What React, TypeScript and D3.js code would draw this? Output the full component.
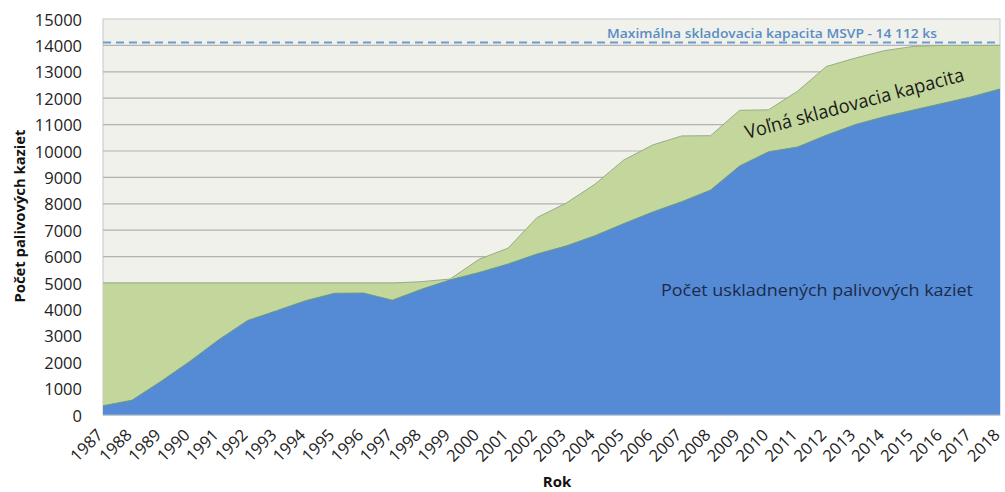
import React from "react";
import * as d3 from "d3";

const years = [
  1987, 1988, 1989, 1990, 1991, 1992, 1993, 1994, 1995, 1996, 1997, 1998, 1999, 2000, 2001, 2002,
  2003, 2004, 2005, 2006, 2007, 2008, 2009, 2010, 2011, 2012, 2013, 2014, 2015, 2016, 2017, 2018,
];
// Počet uskladnených palivových kaziet
const stored = [
  350, 560, 1270, 2030, 2850, 3580, 3950, 4330, 4610, 4620, 4350, 4760, 5120, 5400, 5720, 6100,
  6400, 6790, 7250, 7690, 8080, 8520, 9430, 9970, 10150, 10600, 11000, 11300, 11550, 11800, 12050, 12350,
];
// Celková skladovacia kapacita (horná hrana voľnej kapacity)
const capacity = [
  5000, 5000, 5000, 5000, 5000, 5000, 5000, 5000, 5000, 5000, 5000, 5050, 5150, 5900, 6320, 7480,
  8020, 8740, 9660, 10230, 10570, 10580, 11540, 11560, 12260, 13200, 13520, 13800, 13960, 14000, 14000, 14000,
];
const maxCapacity = 14112;
const yTicks = [0, 1000, 2000, 3000, 4000, 5000, 6000, 7000, 8000, 9000, 10000, 11000, 12000, 13000, 14000, 15000];

const W = 1005;
const H = 492;
const left = 103;
const right = 1000;
const top = 19;
const bottom = 415;

export default function App() {
  const x = d3.scaleLinear().domain([years[0], years[years.length - 1]]).range([left, right]);
  const y = d3.scaleLinear().domain([0, 15000]).range([bottom, top]);

  const data = years.map((yr, i) => ({ yr, s: stored[i], c: Math.max(capacity[i], stored[i]) }));

  const blueArea = d3
    .area<any>()
    .x((d) => x(d.yr))
    .y0(y(0))
    .y1((d) => y(d.s))(data)!;
  const greenArea = d3
    .area<any>()
    .x((d) => x(d.yr))
    .y0(y(0))
    .y1((d) => y(d.c))(data)!;
  const blueLine = d3
    .line<any>()
    .x((d) => x(d.yr))
    .y((d) => y(d.s))(data)!;
  const greenLine = d3
    .line<any>()
    .x((d) => x(d.yr))
    .y((d) => y(d.c))(data)!;

  const font = "'Open Sans', 'DejaVu Sans', sans-serif";

  return (
    <div style={{ position: "absolute", left: 0, top: 0 }}>
      <svg width={W} height={H} style={{ display: "block", background: "#fff" }}>
        <rect x={left} y={top} width={right - left} height={bottom - top} fill="#eff1ea" stroke="#c8c8c8" strokeWidth={1} />
        {yTicks.map((t) => (
          <g key={t}>
            {t > 0 && t < 15000 && (
              <line x1={left} x2={right} y1={y(t)} y2={y(t)} stroke="#b3b3b1" strokeWidth={1.2} />
            )}
            <text
              x={82}
              y={y(t)}
              textAnchor="end"
              dominantBaseline="central"
              fontFamily={font}
              fontSize={16.5}
              fill="#222"
            >
              {t}
            </text>
          </g>
        ))}
        <path d={greenArea} fill="#c3d69b" />
        <path d={greenLine} fill="none" stroke="#98ad84" strokeWidth={1} />
        <path d={blueArea} fill="#558ad4" />
        <path d={blueLine} fill="none" stroke="#6a9a88" strokeWidth={1} />
        <line x1={left} x2={right} y1={bottom} y2={bottom} stroke="#a9b6c9" strokeWidth={1} />
        <line
          x1={left}
          x2={right}
          y1={y(maxCapacity)}
          y2={y(maxCapacity)}
          stroke="#6b9bd0"
          strokeWidth={2}
          strokeDasharray="8,5"
        />
        <text
          x={937}
          y={38}
          textAnchor="end"
          fontFamily={font}
          fontSize={12.5}
          fontWeight={600}
          fill="#5a8cc6"
          textLength={330}
          lengthAdjust="spacingAndGlyphs"
        >
          Maximálna skladovacia kapacita MSVP - 14 112 ks
        </text>
        <text
          transform="translate(747,139) rotate(-15)"
          fontFamily={font}
          fontSize={19}
          fill="#1a1a1a"
          textLength={226}
          lengthAdjust="spacingAndGlyphs"
        >
          Voľná skladovacia kapacita
        </text>
        <text
          x={661}
          y={296}
          fontFamily={font}
          fontSize={16.5}
          fill="#1c2a4a"
          textLength={312}
          lengthAdjust="spacingAndGlyphs"
        >
          Počet uskladnených palivových kaziet
        </text>
        {years.map((yr) => (
          <text
            key={yr}
            transform={`translate(${x(yr) + 1},${436}) rotate(-45)`}
            textAnchor="end"
            fontFamily={font}
            fontSize={16.5}
            fill="#222"
          >
            {yr}
          </text>
        ))}
        <text
          x={557}
          y={487}
          textAnchor="middle"
          fontFamily={font}
          fontSize={15}
          fontWeight={700}
          fill="#111"
        >
          Rok
        </text>
        <text
          transform={`translate(25,216) rotate(-90)`}
          textAnchor="middle"
          fontFamily={font}
          fontSize={14.5}
          fontWeight={700}
          fill="#111"
          textLength={173}
          lengthAdjust="spacingAndGlyphs"
        >
          Počet palivových kaziet
        </text>
      </svg>
    </div>
  );
}
